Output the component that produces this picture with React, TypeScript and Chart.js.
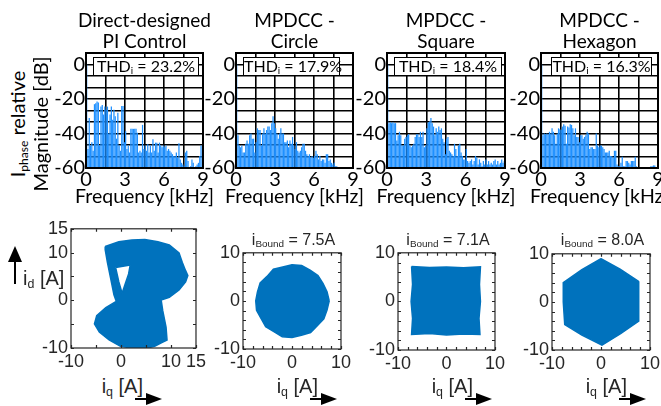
import React, { useEffect, useRef } from 'react';
import { Chart, registerables } from 'chart.js';

Chart.register(...registerables);

// ---------------- DATA ----------------
const FREQ_KHZ = [
  0.05, 0.15, 0.25, 0.35, 0.45, 0.55, 0.65, 0.75, 0.85, 0.95,
  1.05, 1.15, 1.25, 1.35, 1.45, 1.55, 1.65, 1.75, 1.85, 1.95,
  2.05, 2.15, 2.25, 2.35, 2.45, 2.55, 2.65, 2.75, 2.85, 2.95,
  3.05, 3.15, 3.25, 3.35, 3.45, 3.55, 3.65, 3.75, 3.85, 3.95,
  4.05, 4.15, 4.25, 4.35, 4.45, 4.55, 4.65, 4.75, 4.85, 4.95,
  5.05, 5.15, 5.25, 5.35, 5.45, 5.55, 5.65, 5.75, 5.85, 5.95,
  6.05, 6.15, 6.25, 6.35, 6.45, 6.55, 6.65, 6.75, 6.85, 6.95,
  7.05, 7.15, 7.25, 7.35, 7.45, 7.55, 7.65, 7.75, 7.85, 7.95,
  8.05, 8.15, 8.25, 8.35, 8.45, 8.55, 8.65, 8.75, 8.85, 8.95,
];

const SPEC_PI_DB = [
  0, -49, -31, -47, -45, -50, -23, -22.5, -21.5, -22,
  -47, -24.4, -23.5, -29, -24.4, -26.3, -24.4, -40, -29, -24.4,
  -32, -26.3, -30, -43, -28, -47, -50, -24, -24, -45,
  -38.7, -49, -47, -51, -37.3, -37.3, -37.3, -37.3, -37.3, -39.6,
  -51, -50, -51, -35, -49, -47, -50, -46.3, -51, -47,
  -51, -43.4, -50, -45.3, -45.3, -51, -45.3, -47, -48, -47,
  -48, -47, -50, -49, -50, -51, -52, -53, -53, -51,
  -54, -45.7, -55, -57, -58, -59, -51, -50, -56, -60,
  -59, -55, -57, -60, -59, -58, -57, -53, -47, -60,
];

const SPEC_CIRCLE_DB = [
  0, -41, -47, -48, -47, -51, -51, -46, -44, -46,
  -41, -40, -43, -43, -51, -45, -37, -38, -38, -47,
  -40, -37, -40, -38, -36, -36, -38, -34, -30, -34,
  -37, -40, -43, -40, -37, -40, -40, -45, -45, -44,
  -48, -44, -46, -42, -47, -49, -45, -50, -51, -50,
  -48, -46, -46, -50, -52, -53, -52, -54, -53, -54,
  -53, -50, -52, -55, -53, -56, -55, -55, -57, -52,
  -52, -56, -55, -57, -58, -57, -59, -59, -60, -59.5,
  -59.5, -59.6, -59.7, -60, -60, -60, -60, -60, -60, -60,
];

const SPEC_SQUARE_DB = [
  0, -34, -33.5, -34, -33.5, -34, -34, -44, -41, -39,
  -41, -47, -47, -43, -42, -41, -40.5, -47, -48, -47,
  -46, -42, -40.5, -40.5, -42, -39, -42, -39, -48, -47,
  -37, -33.5, -33, -31, -34, -36, -41, -37, -39, -36,
  -38, -37, -43, -45, -52, -43, -42, -50, -51, -52,
  -53, -46, -49, -53, -47, -46, -51, -53, -55, -55,
  -49, -56, -57, -56, -55, -58, -56, -53, -54, -58,
  -55, -57, -59, -56, -58, -55, -58, -56, -58, -57,
  -58, -56, -55, -58, -56, -58, -57, -55, -57, -56,
];

const SPEC_HEX_DB = [
  0, -41, -40, -40.5, -40, -40.5, -39, -40, -37, -39,
  -41, -46, -40, -37, -37.5, -38, -36, -34.7, -35.5, -46,
  -36, -36.5, -34.7, -35, -37, -41, -37, -42, -42, -45,
  -41, -41, -43, -42, -41, -39, -40, -49, -48, -48,
  -49, -49, -40, -47, -48, -47, -47, -48, -49, -51,
  -51, -51, -50, -53, -53, -54, -50, -50, -58, -59,
  -59, -57, -53.5, -59, -59, -56, -56, -57, -58, -56,
  -56, -56, -53.5, -59, -59.5, -60, -60, -60, -60, -60,
  -60, -60, -60, -60, -59, -59, -58.5, -58.5, -60, -60,
];

const X_GRID_KHZ = [0, 1.5, 3, 4.5, 6, 7.5, 9];
const X_TICK_LABELS_KHZ = [0, 3, 6, 9];
const Y_GRID_DB = [-60, -53.3333, -46.6667, -40, -33.3333, -26.6667, -20, -13.3333, -6.6667, 0, 6.6667];
const Y_TICK_LABELS_DB = [0, -20, -40, -60];

const TITLES = [
  ['Direct-designed', 'PI Control'],
  ['MPDCC -', 'Circle'],
  ['MPDCC -', 'Square'],
  ['MPDCC -', 'Hexagon'],
];
const THD_VALUES = ['23.2%', '17.9%', '18.4%', '16.3%'];
const BOUND_VALUES = ['7.5A', '7.1A', '8.0A'];

// Direct-designed PI trajectory (outline and inner hole), i_q / i_d in A
const PI_OUTER_IQ = [-3.16, -0.43, 2.17, 4.78, 7.38, 9.66, 11.61, 12.27, 12.92, 13.37, 12.92, 11.61, 9.66, 8.03, 8.36, 9.01, 9.21, 8.16, 6.73, 4.78, 2.17, -0.1, -2.38, -4.34, -5.31, -4.86, -3.03, -0.95, -1.41, -2.06, -2.71, -3.16];
const PI_OUTER_ID = [11.28, 12.3, 12.64, 12.77, 12.3, 11.62, 9.93, 7.91, 6.22, 5.2, 3.85, 2.16, 0.61, 0.07, -2.23, -5.61, -8.31, -8.85, -9.66, -10.1, -10.0, -9.66, -8.31, -6.62, -4.93, -3.24, -1.55, -0.2, 1.15, 4.53, 7.91, 10.61];
const PI_HOLE_IQ = [-1.08, 1.85, 1.52, 0.87, 0.22, -0.43];
const PI_HOLE_ID = [6.89, 7.43, 5.54, 3.51, 1.49, 3.85];

const CIRCLE_IQ = [7.6, 7.15, 6.32, 5.3, 3.7, 1.97, 0, -1.89, -3.8, -5.09, -6.5, -7.05, -7.4, -7.24, -6.32, -5.37, -3.7, -1.99, 0, 1.92, 3.8, 5.16, 6.5, 7.15];
const CIRCLE_ID = [0, 1.92, 3.65, 5.3, 6.41, 7.34, 7.5, 7.05, 6.58, 5.09, 3.75, 1.89, 0, -1.94, -3.65, -5.37, -6.41, -7.44, -7.6, -7.15, -6.58, -5.16, -3.75, -1.92];

const SQUARE_IQ = [-7.2, -3.5, 0, 3.5, 7.0, 6.8, 7.0, 6.7, 6.9, 3.5, 0, -3.5, -7.2, -7.0, -7.3, -7.0];
const SQUARE_ID = [7.2, 7.0, 7.1, 6.9, 7.1, 3.5, 0, -3.5, -6.8, -6.7, -6.9, -6.6, -6.8, -3.5, 0, 3.5];

const HEX_IQ = [0, 3.9, 7.6, 7.7, 7.7, 4.0, 0.2, -3.9, -7.4, -7.7, -7.7, -3.9];
const HEX_ID = [9.0, 6.8, 4.3, 0, -4.0, -6.6, -9.0, -6.9, -4.7, 0, 4.0, 6.7];

// ---------------- LAYOUT ----------------
const TOP_FONT = 'Lato, "Noto Sans", sans-serif';
const BOT_FONT = '"Liberation Sans", Arial, sans-serif';
const BAR_BLUE = 'rgb(30,144,255)';
const TRAJ_BLUE = 'rgb(0,114,189)';

const TOP_PLOTS = [
  { l: 86, r: 203 },
  { l: 236, r: 353 },
  { l: 387, r: 505 },
  { l: 541, r: 658 },
];
const TOP_T = 52;
const TOP_B = 168;
const THD_BOXES = [
  { l: 93, r: 199 },
  { l: 243, r: 340 },
  { l: 394, r: 502 },
  { l: 551, r: 652 },
];

const BOT_PLOTS = [
  { l: 71, r: 199, t: 225, b: 348 },
  { l: 243, r: 344, t: 249, b: 349 },
  { l: 398, r: 498, t: 249, b: 350 },
  { l: 552, r: 653, t: 250, b: 350 },
];
const IQ_LABEL_RIGHT = [143, 318, 473, 627];

const topFrame = {
  id: 'topFrame',
  afterDraw(chart: any) {
    const { ctx, chartArea: a } = chart;
    ctx.save();
    ctx.strokeStyle = '#000';
    ctx.lineWidth = 2;
    ctx.strokeRect(a.left, a.top, a.right - a.left, a.bottom - a.top);
    ctx.restore();
  },
};

const boxTicks = {
  id: 'boxTicks',
  afterDraw(chart: any) {
    const { ctx, chartArea: a, scales } = chart;
    ctx.save();
    ctx.strokeStyle = '#262626';
    ctx.lineWidth = 1.2;
    ctx.strokeRect(a.left, a.top, a.right - a.left, a.bottom - a.top);
    const L = 3;
    ctx.beginPath();
    scales.x.ticks.forEach((t: any) => {
      const px = Math.round(scales.x.getPixelForValue(t.value)) + 0.5;
      ctx.moveTo(px, a.bottom);
      ctx.lineTo(px, a.bottom - L);
      ctx.moveTo(px, a.top);
      ctx.lineTo(px, a.top + L);
    });
    scales.y.ticks.forEach((t: any) => {
      const py = Math.round(scales.y.getPixelForValue(t.value)) + 0.5;
      ctx.moveTo(a.left, py);
      ctx.lineTo(a.left + L, py);
      ctx.moveTo(a.right, py);
      ctx.lineTo(a.right - L, py);
    });
    ctx.stroke();
    ctx.restore();
  },
};

const T_YW = 44;
const T_PAD = 12;
const T_XH = 28;

function SpectrumChart({ values, plot }: { values: number[]; plot: { l: number; r: number } }) {
  const ref = useRef<HTMLCanvasElement>(null);
  const w = T_YW + (plot.r - plot.l) + T_PAD;
  const h = T_PAD + (TOP_B - TOP_T) + T_XH;
  useEffect(() => {
    const data = FREQ_KHZ.map((f, i) => ({ x: f, y: values[i] }));
    const chart = new Chart(ref.current as HTMLCanvasElement, {
      type: 'bar',
      data: {
        datasets: [
          {
            data,
            backgroundColor: BAR_BLUE,
            borderWidth: 0,
            base: -60,
            barPercentage: 0.95,
            categoryPercentage: 1,
            grouped: false,
          } as any,
        ],
      },
      options: {
        animation: false,
        responsive: false,
        maintainAspectRatio: false,
        layout: { padding: { top: T_PAD, right: T_PAD, left: 0, bottom: 0 } },
        plugins: { legend: { display: false }, tooltip: { enabled: false } },
        scales: {
          x: {
            type: 'linear',
            min: 0,
            max: 9,
            offset: false,
            afterBuildTicks: (s: any) => {
              s.ticks = X_GRID_KHZ.map((v) => ({ value: v }));
            },
            afterFit: (s: any) => {
              s.height = T_XH;
            },
            ticks: {
              autoSkip: false,
              maxRotation: 0,
              padding: 0,
              color: '#000',
              font: { family: TOP_FONT, size: 20 },
              callback: (v: any) => (X_TICK_LABELS_KHZ.includes(Number(v)) ? String(v) : ''),
            },
            grid: { color: '#000', lineWidth: 1.6, drawTicks: false, offset: false },
            border: { display: false },
          },
          y: {
            type: 'linear',
            min: -60,
            max: 6.6667,
            afterBuildTicks: (s: any) => {
              s.ticks = Y_GRID_DB.map((v) => ({ value: v }));
            },
            afterFit: (s: any) => {
              s.width = T_YW;
            },
            ticks: {
              autoSkip: false,
              padding: 1,
              color: '#000',
              font: { family: TOP_FONT, size: 20 },
              callback: (v: any) => {
                const hit = Y_TICK_LABELS_DB.find((l) => Math.abs(l - Number(v)) < 0.01);
                return hit === undefined ? '' : String(hit);
              },
            },
            grid: { color: '#000', lineWidth: 1.6, drawTicks: false },
            border: { display: false },
          },
        },
      } as any,
      plugins: [topFrame],
    });
    return () => chart.destroy();
  }, []);
  return (
    <canvas
      ref={ref}
      width={w}
      height={h}
      style={{ position: 'absolute', left: plot.l - T_YW, top: TOP_T - T_PAD, width: w, height: h }}
    />
  );
}

const B_YW = 36;
const B_PAD = 10;
const B_XH = 24;

function toPoints(xs: number[], ys: number[]) {
  const pts = xs.map((x, i) => ({ x, y: ys[i] }));
  pts.push({ x: xs[0], y: ys[0] });
  return pts;
}

function TrajectoryChart({
  shapes,
  plot,
  range,
  step,
  labels,
}: {
  shapes: { xs: number[]; ys: number[]; color: string }[];
  plot: { l: number; r: number; t: number; b: number };
  range: [number, number];
  step: number;
  labels: number[];
}) {
  const ref = useRef<HTMLCanvasElement>(null);
  const w = B_YW + (plot.r - plot.l) + B_PAD;
  const h = B_PAD + (plot.b - plot.t) + B_XH;
  useEffect(() => {
    const datasets = shapes.map((s) => ({
      data: toPoints(s.xs, s.ys),
      showLine: true,
      fill: 'shape',
      backgroundColor: s.color,
      borderColor: TRAJ_BLUE,
      borderWidth: 1.5,
      pointRadius: 0,
      tension: 0,
    }));
    const tickCfg = {
      stepSize: step,
      autoSkip: false,
      maxRotation: 0,
      padding: 3,
      color: '#262626',
      font: { family: BOT_FONT, size: 18 },
      callback: (v: any) => (labels.includes(Number(v)) ? String(v) : ''),
    };
    const chart = new Chart(ref.current as HTMLCanvasElement, {
      type: 'scatter',
      data: { datasets: datasets as any },
      options: {
        animation: false,
        responsive: false,
        maintainAspectRatio: false,
        layout: { padding: { top: B_PAD, right: B_PAD, left: 0, bottom: 0 } },
        plugins: { legend: { display: false }, tooltip: { enabled: false } },
        scales: {
          x: {
            type: 'linear',
            min: range[0],
            max: range[1],
            afterFit: (s: any) => {
              s.height = B_XH;
            },
            ticks: tickCfg,
            grid: { display: false, drawTicks: false },
            border: { display: false },
          },
          y: {
            type: 'linear',
            min: range[0],
            max: range[1],
            afterFit: (s: any) => {
              s.width = B_YW;
            },
            ticks: tickCfg,
            grid: { display: false, drawTicks: false },
            border: { display: false },
          },
        },
      } as any,
      plugins: [boxTicks],
    });
    return () => chart.destroy();
  }, []);
  return (
    <canvas
      ref={ref}
      width={w}
      height={h}
      style={{ position: 'absolute', left: plot.l - B_YW, top: plot.t - B_PAD, width: w, height: h }}
    />
  );
}

const subStyle: React.CSSProperties = { fontSize: '0.62em', verticalAlign: '-0.25em', lineHeight: 0 };

export default function App() {
  const spectra = [SPEC_PI_DB, SPEC_CIRCLE_DB, SPEC_SQUARE_DB, SPEC_HEX_DB];
  const trajShapes = [
    [
      { xs: PI_HOLE_IQ, ys: PI_HOLE_ID, color: '#ffffff' },
      { xs: PI_OUTER_IQ, ys: PI_OUTER_ID, color: TRAJ_BLUE },
    ],
    [{ xs: CIRCLE_IQ, ys: CIRCLE_ID, color: TRAJ_BLUE }],
    [{ xs: SQUARE_IQ, ys: SQUARE_ID, color: TRAJ_BLUE }],
    [{ xs: HEX_IQ, ys: HEX_ID, color: TRAJ_BLUE }],
  ];
  return (
    <div
      style={{
        position: 'fixed',
        left: 0,
        top: 0,
        width: 661,
        height: 406,
        background: '#fff',
        overflow: 'hidden',
        color: '#000',
      }}
    >
      {spectra.map((vals, i) => (
        <SpectrumChart key={'s' + i} values={vals} plot={TOP_PLOTS[i]} />
      ))}
      {trajShapes.map((sh, i) => (
        <TrajectoryChart
          key={'t' + i}
          shapes={sh}
          plot={BOT_PLOTS[i]}
          range={i === 0 ? [-10, 15] : [-10, 10]}
          step={i === 0 ? 5 : 2}
          labels={i === 0 ? [-10, 0, 10, 15] : [-10, 0, 10]}
        />
      ))}

      {/* top titles */}
      {TITLES.map((t, i) => {
        const c = (TOP_PLOTS[i].l + TOP_PLOTS[i].r) / 2;
        return (
          <div
            key={'title' + i}
            style={{
              position: 'absolute',
              left: c - 100,
              width: 200,
              top: 9,
              textAlign: 'center',
              fontFamily: TOP_FONT,
              fontSize: 19,
              lineHeight: '21px',
              whiteSpace: 'nowrap',
            }}
          >
            {t[0]}
            <br />
            {t[1]}
          </div>
        );
      })}

      {/* THD boxes */}
      {THD_VALUES.map((v, i) => (
        <div
          key={'thd' + i}
          style={{
            position: 'absolute',
            left: THD_BOXES[i].l,
            top: 57,
            width: THD_BOXES[i].r - THD_BOXES[i].l,
            height: 19,
            boxSizing: 'border-box',
            border: '1.5px solid #000',
            background: '#fff',
            fontFamily: TOP_FONT,
            fontSize: 16,
            lineHeight: '16px',
            textAlign: 'center',
            whiteSpace: 'nowrap',
          }}
        >
          THD<sub style={subStyle}>i</sub> = {v}
        </div>
      ))}

      {/* frequency labels */}
      {TOP_PLOTS.map((p, i) => (
        <div
          key={'fx' + i}
          style={{
            position: 'absolute',
            left: (p.l + p.r) / 2 - 90,
            width: 180,
            top: 185,
            textAlign: 'center',
            fontFamily: TOP_FONT,
            fontSize: 19.5,
            lineHeight: '22px',
            whiteSpace: 'nowrap',
          }}
        >
          Frequency [kHz]
        </div>
      ))}

      {/* top y-axis title (rotated) */}
      <div
        style={{
          position: 'absolute',
          left: 17,
          top: 124,
          transform: 'translate(-50%, -50%) rotate(-90deg)',
          fontFamily: TOP_FONT,
          fontSize: 20,
          lineHeight: '22px',
          whiteSpace: 'nowrap',
        }}
      >
        I<sub style={{ fontSize: 12, verticalAlign: '-3px', lineHeight: 0 }}>phase</sub> relative
      </div>
      <div
        style={{
          position: 'absolute',
          left: 40,
          top: 124,
          transform: 'translate(-50%, -50%) rotate(-90deg)',
          fontFamily: TOP_FONT,
          fontSize: 20,
          lineHeight: '22px',
          whiteSpace: 'nowrap',
        }}
      >
        Magnitude [dB]
      </div>

      {/* i_Bound titles */}
      {BOUND_VALUES.map((v, i) => {
        const p = BOT_PLOTS[i + 1];
        const c = (p.l + p.r) / 2;
        return (
          <div
            key={'bd' + i}
            style={{
              position: 'absolute',
              left: c - 70,
              width: 140,
              top: 231,
              textAlign: 'center',
              fontFamily: BOT_FONT,
              fontSize: 16,
              lineHeight: '17px',
              color: '#262626',
              whiteSpace: 'nowrap',
            }}
          >
            i<sub style={subStyle}>Bound</sub> = {v}
          </div>
        );
      })}

      {/* i_q labels */}
      {IQ_LABEL_RIGHT.map((r, i) => (
        <div
          key={'iq' + i}
          style={{
            position: 'absolute',
            left: r - 100,
            width: 100,
            top: 375,
            textAlign: 'right',
            fontFamily: BOT_FONT,
            fontSize: 20,
            lineHeight: '22px',
            color: '#262626',
            whiteSpace: 'nowrap',
          }}
        >
          i<sub style={subStyle}>q</sub> [A]
        </div>
      ))}

      {/* i_d label */}
      <div
        style={{
          position: 'absolute',
          left: 23,
          top: 267,
          fontFamily: BOT_FONT,
          fontSize: 20,
          lineHeight: '22px',
          color: '#262626',
          whiteSpace: 'nowrap',
        }}
      >
        i<sub style={subStyle}>d</sub> [A]
      </div>

      {/* arrows */}
      <svg
        width={661}
        height={406}
        style={{ position: 'absolute', left: 0, top: 0, pointerEvents: 'none' }}
      >
        <line x1={15} y1={284} x2={15} y2={260} stroke="#000" strokeWidth={2} />
        <polygon points="8,262 22,262 15,246" fill="#000" />
        {IQ_LABEL_RIGHT.map((r, i) => (
          <g key={'ar' + i}>
            <line x1={r - 8} y1={399} x2={r + 5} y2={399} stroke="#000" strokeWidth={2} />
            <polygon points={`${r + 3},393 ${r + 3},405 ${r + 19},399`} fill="#000" />
          </g>
        ))}
      </svg>
    </div>
  );
}
